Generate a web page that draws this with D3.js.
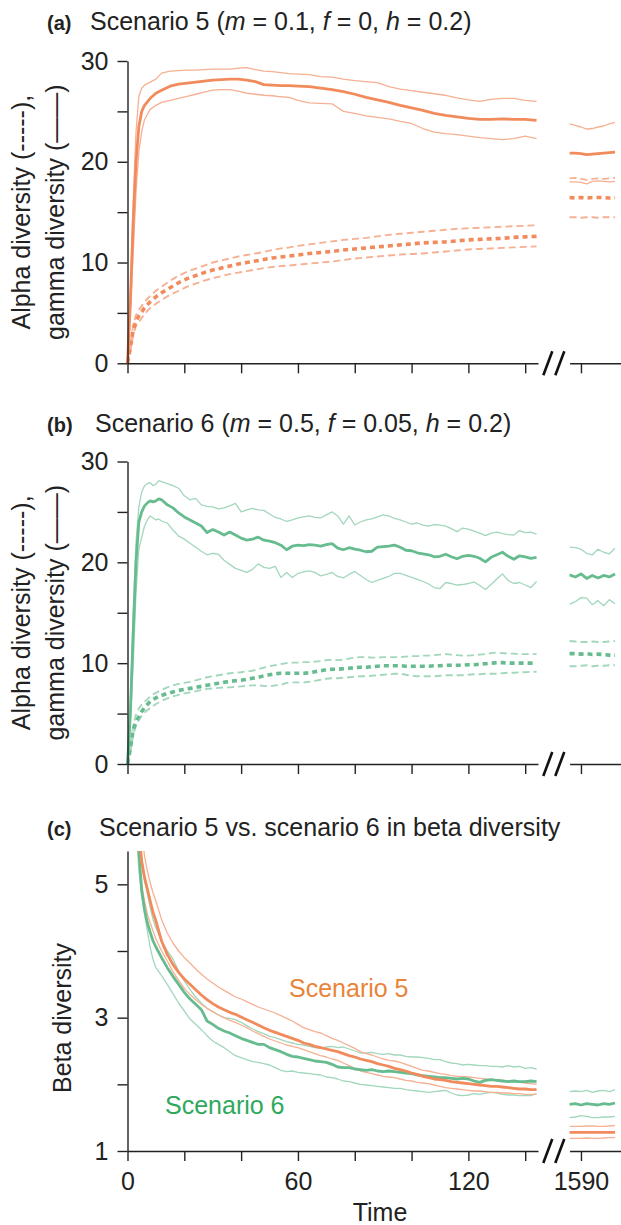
<!DOCTYPE html>
<html>
<head>
<meta charset="utf-8">
<script src="https://cdn.jsdelivr.net/npm/d3@7"></script>
<style>
  body { margin: 0; background: #fff; }
  svg { display: block; font-family: "Liberation Sans", Arial, sans-serif; }
</style>
</head>
<body>
<div id="chart"></div>
<script>
// ---- time axes ----
const tA = [0, 1, 2, 3, 4, 5, 6, 8, 10, 12,
  15, 18, 21, 24, 27, 30, 33, 36, 39, 42, 45, 48, 51, 54, 57, 60,
  64, 68, 72, 76, 80, 84, 88, 92, 96, 100, 104, 108, 112, 116, 120, 124, 128, 132, 136, 140, 144];
const tB = [0, 1, 2, 3, 4, 5, 6, 7, 8, 9, 10, 11, 12,
  14, 16, 18, 20, 22, 24, 26, 28, 30, 32,
  34, 36, 38, 40, 42, 44, 46, 48, 50, 52,
  54, 56, 58, 60, 62, 64, 66, 68, 70, 72,
  74, 76, 78, 80, 82, 84, 86, 88, 90, 92,
  94, 96, 98, 100, 102, 104, 106, 108, 110, 112,
  114, 116, 118, 120, 122, 124, 126, 128, 130, 132,
  134, 136, 138, 140, 142, 144];
const tC = [2, 3, 4, 5, 6, 7, 8, 9, 10,
  12, 14, 16, 18, 20, 22, 24, 26, 28, 30,
  32, 34, 36, 38, 40, 42, 44, 46, 48, 50,
  52, 54, 56, 58, 60, 62, 64, 66, 68, 70,
  72, 74, 76, 78, 80, 82, 84, 86, 88, 90,
  92, 94, 96, 98, 100, 102, 104, 106, 108, 110,
  112, 114, 116, 118, 120, 122, 124, 126, 128, 130,
  132, 134, 136, 138, 140, 142, 144];
const tLate = [1586, 1588, 1590, 1592, 1594, 1596, 1598, 1600, 1602];

const xTicksEarly = [0, 20, 40, 60, 80, 100, 120, 140];
const xLabelsEarly = [0, 60, 120];
const xTicksLate = [1590];

// ---- (a) scenario 5: gamma (solid) and alpha (dashed), mean and band ----
const s5GammaMean = [0, 6, 14, 20, 23.5, 25, 25.6, 26.3, 26.8, 27.1,
  27.5, 27.7, 27.8, 27.9, 28.0, 28.1, 28.15, 28.2, 28.2, 28.1, 27.95, 27.65, 27.6, 27.55, 27.55, 27.5,
  27.45, 27.3, 27.15, 26.95, 26.7, 26.4, 26.15, 25.9, 25.6, 25.35, 25.1, 24.8, 24.6, 24.45, 24.3, 24.2, 24.2, 24.25, 24.2, 24.2, 24.1];
const s5GammaHi = [0, 7, 16, 23, 26.5, 27.3, 27.6, 27.9, 28.2, 28.8,
  29.0, 29.05, 29.1, 29.1, 29.15, 29.2, 29.2, 29.2, 29.3, 29.35, 29.15, 29.0, 28.95, 28.85, 28.75, 28.7,
  28.65, 28.45, 28.4, 28.2, 28.05, 27.95, 27.85, 27.45, 27.2, 27.05, 26.9, 26.75, 26.6, 26.35, 26.15, 26.0, 26.2, 26.3, 26.3, 26.1, 26.0];
const s5GammaLo = [0, 5, 11, 17, 21, 23, 24.2, 25.2, 25.6, 25.9,
  26.1, 26.3, 26.5, 26.7, 26.9, 27.1, 27.15, 27.15, 27.0, 26.8, 26.7, 26.6, 26.55, 26.45, 26.4, 26.1,
  25.85, 25.8, 25.75, 25.0, 24.8, 24.55, 24.4, 24.25, 24.0, 23.8, 23.3, 22.95, 22.8, 22.7, 22.55, 22.4, 22.3, 22.2, 22.3, 22.55, 22.3];
const s5AlphaMean = [0, 1.5, 3.3, 4.2, 4.7, 5.1, 5.5, 6.1, 6.6, 7.0,
  7.5, 8.0, 8.4, 8.7, 9.0, 9.25, 9.45, 9.65, 9.85, 10.0, 10.15, 10.3, 10.45, 10.55, 10.65, 10.75,
  10.9, 11.0, 11.1, 11.25, 11.35, 11.45, 11.55, 11.65, 11.75, 11.85, 11.95, 12.0, 12.05, 12.15, 12.25, 12.3, 12.35, 12.4, 12.5, 12.55, 12.6];
const s5AlphaHi = [0, 1.8, 3.8, 4.8, 5.3, 5.7, 6.1, 6.7, 7.2, 7.6,
  8.2, 8.7, 9.1, 9.4, 9.7, 10.0, 10.2, 10.4, 10.6, 10.75, 10.9, 11.05, 11.25, 11.4, 11.5, 11.65,
  11.8, 11.95, 12.1, 12.25, 12.35, 12.45, 12.6, 12.75, 12.85, 12.95, 13.05, 13.15, 13.25, 13.35, 13.4, 13.45, 13.5, 13.55, 13.6, 13.65, 13.7];
const s5AlphaLo = [0, 1.2, 2.8, 3.7, 4.1, 4.5, 4.9, 5.5, 5.9, 6.3,
  6.8, 7.2, 7.6, 7.9, 8.2, 8.45, 8.65, 8.85, 9.0, 9.15, 9.3, 9.45, 9.55, 9.65, 9.7, 9.8,
  9.9, 10.0, 10.1, 10.25, 10.4, 10.5, 10.6, 10.7, 10.8, 10.85, 10.9, 11.0, 11.1, 11.2, 11.3, 11.35, 11.4, 11.45, 11.5, 11.55, 11.6];

const s5GammaMeanLate = [20.85, 20.85, 20.8, 20.7, 20.75, 20.8, 20.85, 20.9, 20.95];
const s5GammaHiLate = [23.75, 23.6, 23.45, 23.25, 23.3, 23.45, 23.55, 23.75, 23.9];
const s5GammaLoLate = [18.0, 18.0, 17.95, 17.8, 18.05, 18.1, 18.05, 18.0, 18.05];
const s5AlphaMeanLate = [16.45, 16.4, 16.45, 16.4, 16.45, 16.45, 16.45, 16.4, 16.45];
const s5AlphaHiLate = [18.35, 18.4, 18.3, 18.2, 18.3, 18.35, 18.3, 18.35, 18.4];
const s5AlphaLoLate = [14.5, 14.5, 14.45, 14.5, 14.5, 14.45, 14.5, 14.5, 14.5];

// ---- (b) scenario 6 ----
const s6GammaMean = [0, 5, 13, 20, 24.0, 25.0, 25.6, 25.9, 26.1, 26.0, 26.1, 26.3, 26.2,
  25.7, 25.4, 24.9, 24.5, 24.2, 23.9, 23.6, 22.95, 23.25, 23.0,
  22.7, 23.0, 22.7, 22.4, 22.2, 22.3, 22.5, 22.2, 22.1, 21.95,
  21.7, 21.25, 21.6, 21.7, 21.65, 21.75, 21.7, 21.6, 21.75, 21.85,
  21.4, 21.25, 21.45, 21.3, 21.2, 21.05, 21.1, 21.5, 21.55, 21.6,
  21.7, 21.5, 21.2, 21.15, 20.95, 20.85, 20.75, 20.55, 20.6, 20.8,
  20.55, 20.35, 20.6, 20.7, 20.6, 20.4, 20.05, 20.5, 20.75, 21.0,
  20.6, 20.3, 20.65, 20.55, 20.4, 20.5];
const s6GammaHi = [0, 6, 15, 22, 25.5, 27.0, 27.6, 27.8, 27.9, 27.6, 27.75, 28.1, 28.0,
  27.8, 27.6, 27.35, 26.6, 26.2, 26.35, 25.7, 25.55, 25.5, 25.3,
  25.4, 25.6, 25.85, 25.0, 25.2, 25.35, 25.2, 25.15, 24.8, 24.45,
  24.3, 24.05, 24.2, 24.4, 24.5, 24.6, 24.45, 24.4, 24.7, 25.0,
  24.6, 23.8, 24.6, 23.7, 24.0, 24.2, 24.3, 24.5, 24.7, 24.6,
  24.35, 24.2, 24.0, 23.8, 23.9, 23.7, 23.6, 23.75, 23.7, 23.6,
  23.35, 23.05, 23.4, 23.3, 23.1, 22.9, 22.65, 22.9, 23.0, 22.85,
  22.75, 22.7, 23.15, 22.95, 23.0, 22.8];
const s6GammaLo = [0, 4, 10, 17, 21.3, 22.5, 23.6, 24.2, 24.6, 24.4, 24.2, 24.3, 24.1,
  23.9, 23.2, 22.6, 22.3, 21.9, 21.5, 21.1, 20.75, 20.9, 20.8,
  20.2, 19.8, 19.4, 19.2, 19.0, 19.3, 19.85, 19.5, 19.4, 19.6,
  18.5, 19.0, 18.5, 18.9, 19.05, 19.15, 19.0, 18.65, 18.8, 19.0,
  18.6, 18.45, 18.8, 19.1, 18.7, 18.3, 18.0, 18.2, 18.4, 18.6,
  18.9, 18.9, 18.7, 18.5, 18.3, 18.1, 17.85, 17.5, 17.4, 18.0,
  17.9, 17.75, 17.8, 17.9, 18.05, 17.7, 17.3, 17.8, 18.35, 18.85,
  18.2, 17.9, 18.0, 17.75, 17.5, 18.1];
const s6AlphaMean = [0, 1.5, 3.4, 4.2, 4.7, 5.2, 5.6, 5.9, 6.2, 6.4, 6.55, 6.7, 6.8,
  7.0, 7.15, 7.3, 7.4, 7.5, 7.6, 7.7, 7.8, 7.9, 8.0,
  8.1, 8.2, 8.25, 8.3, 8.4, 8.5, 8.6, 8.75, 8.85, 8.95,
  9.0, 9.0, 9.0, 9.0, 9.0, 9.05, 9.15, 9.25, 9.35, 9.4,
  9.4, 9.45, 9.5, 9.55, 9.6, 9.6, 9.65, 9.7, 9.75, 9.75,
  9.75, 9.75, 9.7, 9.7, 9.7, 9.7, 9.7, 9.75, 9.75, 9.8,
  9.8, 9.8, 9.8, 9.85, 9.85, 9.9, 9.95, 10.0, 10.05, 10.05,
  10.0, 10.0, 10.0, 10.0, 10.0, 10.0];
const s6AlphaHi = [0, 1.8, 3.8, 4.9, 5.5, 5.9, 6.2, 6.4, 6.7, 6.9, 7.05, 7.2, 7.35,
  7.6, 7.8, 7.95, 8.05, 8.15, 8.3, 8.45, 8.6, 8.7, 8.8,
  8.9, 9.0, 9.05, 9.1, 9.2, 9.25, 9.4, 9.55, 9.7, 9.8,
  9.9, 10.0, 10.05, 10.05, 10.1, 10.1, 10.15, 10.2, 10.3, 10.35,
  10.3, 10.35, 10.45, 10.55, 10.6, 10.6, 10.55, 10.55, 10.6, 10.6,
  10.6, 10.6, 10.65, 10.7, 10.7, 10.75, 10.75, 10.8, 10.85, 10.9,
  10.85, 10.8, 10.75, 10.75, 10.8, 10.85, 10.9, 11.0, 11.05, 11.0,
  10.95, 10.95, 10.9, 10.9, 10.9, 10.9];
const s6AlphaLo = [0, 1.2, 2.9, 3.8, 4.35, 4.8, 5.1, 5.35, 5.55, 5.75, 5.95, 6.1, 6.25,
  6.5, 6.7, 6.85, 7.0, 7.1, 7.2, 7.35, 7.45, 7.5, 7.55,
  7.6, 7.6, 7.65, 7.7, 7.75, 7.8, 7.8, 7.75, 7.7, 7.8,
  7.85, 8.05, 8.1, 8.1, 8.1, 8.15, 8.25, 8.35, 8.45, 8.5,
  8.5, 8.55, 8.6, 8.65, 8.7, 8.7, 8.75, 8.8, 8.85, 8.9,
  8.95, 8.95, 8.85, 8.75, 8.7, 8.7, 8.7, 8.7, 8.75, 8.8,
  8.8, 8.8, 8.8, 8.85, 8.9, 8.9, 8.95, 8.95, 8.95, 9.0,
  9.05, 9.05, 9.1, 9.1, 9.15, 9.15];

const s6GammaMeanLate = [18.75, 18.55, 18.85, 18.4, 18.7, 18.45, 18.7, 18.55, 18.85];
const s6GammaHiLate = [21.5, 21.45, 21.3, 20.9, 20.75, 21.3, 21.0, 20.85, 21.4];
const s6GammaLoLate = [15.85, 16.1, 16.5, 16.45, 15.8, 16.2, 15.7, 16.3, 15.9];
const s6AlphaMeanLate = [10.95, 10.95, 10.9, 10.95, 10.85, 10.9, 10.85, 10.8, 10.8];
const s6AlphaHiLate = [12.2, 12.15, 12.1, 12.1, 12.15, 12.1, 12.1, 12.15, 12.2];
const s6AlphaLoLate = [9.7, 9.7, 9.75, 9.8, 9.7, 9.75, 9.75, 9.8, 9.8];

// ---- (c) beta diversity, both scenarios ----
const s5BetaMean = [8.0, 6.8, 5.8, 5.35, 5.1, 4.93, 4.75, 4.58, 4.45,
  4.15, 3.95, 3.8, 3.68, 3.58, 3.5, 3.42, 3.34, 3.27, 3.21,
  3.16, 3.12, 3.08, 3.05, 3.01, 2.97, 2.93, 2.89, 2.85, 2.81,
  2.78, 2.75, 2.72, 2.69, 2.66, 2.62, 2.6, 2.57, 2.55, 2.53,
  2.51, 2.49, 2.46, 2.43, 2.41, 2.38, 2.36, 2.34, 2.31, 2.29,
  2.27, 2.24, 2.22, 2.2, 2.17, 2.15, 2.12, 2.1, 2.08, 2.07,
  2.06, 2.04, 2.03, 2.02, 2.01, 2.0, 1.99, 1.98, 1.97, 1.97,
  1.96, 1.95, 1.94, 1.93, 1.93, 1.92, 1.92];
const s5BetaHi = [9.0, 7.8, 6.6, 5.8, 5.42, 5.2, 5.02, 4.87, 4.75,
  4.47, 4.27, 4.12, 4.0, 3.9, 3.82, 3.73, 3.65, 3.58, 3.52,
  3.46, 3.41, 3.36, 3.31, 3.28, 3.24, 3.2, 3.16, 3.13, 3.1,
  3.07, 3.03, 2.99, 2.95, 2.9, 2.85, 2.82, 2.79, 2.77, 2.73,
  2.69, 2.66, 2.62, 2.58, 2.54, 2.49, 2.46, 2.44, 2.41, 2.38,
  2.36, 2.35, 2.33, 2.3, 2.27, 2.24, 2.21, 2.2, 2.18, 2.16,
  2.15, 2.13, 2.12, 2.12, 2.11, 2.1, 2.09, 2.08, 2.07, 2.07,
  2.06, 2.05, 2.04, 2.03, 2.02, 2.01, 2.0];
const s5BetaLo = [7.5, 6.3, 5.45, 5.0, 4.75, 4.55, 4.42, 4.3, 4.18,
  4.0, 3.85, 3.69, 3.56, 3.44, 3.35, 3.27, 3.2, 3.14, 3.09,
  3.04, 3.0, 2.96, 2.93, 2.89, 2.85, 2.8, 2.76, 2.72, 2.68,
  2.65, 2.62, 2.59, 2.57, 2.55, 2.52, 2.49, 2.46, 2.43, 2.41,
  2.38, 2.36, 2.32, 2.28, 2.24, 2.2, 2.18, 2.16, 2.14, 2.12,
  2.11, 2.1, 2.08, 2.06, 2.05, 2.03, 2.02, 2.01, 1.99, 1.97,
  1.95, 1.94, 1.93, 1.92, 1.91, 1.9, 1.9, 1.89, 1.88, 1.88,
  1.87, 1.87, 1.86, 1.86, 1.85, 1.85, 1.85];
const s6BetaMean = [7.8, 6.5, 5.5, 4.9, 4.62, 4.42, 4.28, 4.15, 4.06,
  3.9, 3.75, 3.62, 3.5, 3.38, 3.28, 3.2, 3.12, 2.95, 2.9,
  2.84, 2.8, 2.77, 2.73, 2.69, 2.66, 2.63, 2.6, 2.6, 2.55,
  2.52, 2.49, 2.45, 2.42, 2.41, 2.39, 2.37, 2.35, 2.34, 2.33,
  2.3, 2.26, 2.25, 2.25, 2.23, 2.22, 2.21, 2.22, 2.2, 2.19,
  2.2, 2.19, 2.18, 2.17, 2.16, 2.14, 2.13, 2.12, 2.11, 2.1,
  2.1, 2.09, 2.08, 2.09, 2.08, 2.05, 2.03, 2.06, 2.07, 2.06,
  2.05, 2.04, 2.05, 2.04, 2.04, 2.05, 2.04];
const s6BetaHi = [8.5, 7.0, 5.9, 5.3, 5.05, 4.85, 4.65, 4.47, 4.35,
  4.15, 4.0, 3.88, 3.7, 3.55, 3.42, 3.31, 3.22, 3.14, 3.09,
  3.04, 3.0, 2.99, 2.97, 2.93, 2.88, 2.83, 2.79, 2.76, 2.72,
  2.7, 2.67, 2.64, 2.62, 2.6, 2.59, 2.57, 2.55, 2.54, 2.56,
  2.57, 2.55, 2.56, 2.53, 2.5, 2.47, 2.47, 2.48, 2.46, 2.45,
  2.46, 2.44, 2.44, 2.42, 2.41, 2.41, 2.4, 2.39, 2.37, 2.37,
  2.34, 2.32, 2.31, 2.29, 2.3, 2.29, 2.28, 2.28, 2.27, 2.27,
  2.26, 2.28, 2.26, 2.27, 2.24, 2.25, 2.23];
const s6BetaLo = [7.0, 5.9, 5.2, 4.85, 4.55, 4.3, 4.05, 3.87, 3.75,
  3.63, 3.5, 3.36, 3.22, 3.1, 2.98, 2.9, 2.82, 2.73, 2.65,
  2.6, 2.55, 2.49, 2.43, 2.4, 2.37, 2.34, 2.33, 2.31, 2.29,
  2.25, 2.21, 2.19, 2.2, 2.18, 2.17, 2.16, 2.15, 2.14, 2.11,
  2.1, 2.08, 2.05, 2.04, 2.02, 2.0, 1.99, 1.98, 1.97, 1.96,
  1.95, 1.94, 1.94, 1.92, 1.91, 1.9, 1.89, 1.88, 1.89, 1.9,
  1.91, 1.87, 1.84, 1.83, 1.84, 1.86, 1.85, 1.87, 1.88, 1.87,
  1.85, 1.84, 1.84, 1.83, 1.83, 1.83, 1.86];

const s5BetaMeanLate = [1.28, 1.28, 1.28, 1.28, 1.28, 1.28, 1.28, 1.28, 1.28];
const s5BetaHiLate = [1.37, 1.37, 1.37, 1.375, 1.375, 1.37, 1.37, 1.375, 1.38];
const s5BetaLoLate = [1.19, 1.19, 1.19, 1.195, 1.19, 1.19, 1.195, 1.2, 1.2];
const s6BetaMeanLate = [1.7, 1.71, 1.69, 1.71, 1.7, 1.69, 1.71, 1.7, 1.72];
const s6BetaHiLate = [1.89, 1.9, 1.89, 1.91, 1.88, 1.9, 1.91, 1.89, 1.92];
const s6BetaLoLate = [1.5, 1.51, 1.53, 1.52, 1.5, 1.5, 1.51, 1.51, 1.52];

// ---- layout ----
const width = 621;
const height = 1225;
const marginLeft = 127.5;
const pxPerUnit = 2.8407;     // same spacing on both sides of the break
const earlyEnd = 144.5;
const lateStart = 1586;
const lateLeft = 569.6;
const fontSize = 25;

const orange = "#f28b5c", orangeLight = "#f6b093";
const green = "#66bc8f", greenLight = "#a3d7bc";
const axisColor = "#222";

const x = d3.scaleLinear().domain([0, earlyEnd])
  .range([marginLeft, marginLeft + earlyEnd * pxPerUnit]);
const xLate = d3.scaleLinear().domain([lateStart, lateStart + (width - lateLeft) / pxPerUnit])
  .range([lateLeft, width]);

const svg = d3.select("#chart").append("svg")
  .attr("width", width)
  .attr("height", height);

// one line style per role
const styles = {
  mean: { w: 2.8, dash: null },
  band: { w: 1.3, dash: null },
  alphaMean: { w: 3.6, dash: "5,4" },
  alphaBand: { w: 1.9, dash: "7,4" }
};

function drawSeries(g, y, t, v, tl, vl, color, style) {
  const line = d3.line().x(d => d.x).y(d => y(d.v));
  const early = t.map((tt, i) => ({ x: x(tt), v: v[i] }));
  const late = tl.map((tt, i) => ({ x: xLate(tt), v: vl[i] }));
  [early, late].forEach(pts => {
    g.append("path")
      .datum(pts)
      .attr("fill", "none")
      .attr("stroke", color)
      .attr("stroke-width", style.w)
      .attr("stroke-dasharray", style.dash)
      .attr("stroke-linejoin", "round")
      .attr("d", line);
  });
}

function drawAxes(y, yTicks, yLabels, showXLabels) {
  const yBase = y.range()[0];
  const fmt = d => yLabels.includes(d) ? d : "";

  const gy = svg.append("g")
    .attr("transform", `translate(${marginLeft},0)`)
    .call(d3.axisLeft(y).tickValues(yTicks).tickFormat(fmt).tickSize(10).tickSizeOuter(0).tickPadding(9));

  const gx = svg.append("g")
    .attr("transform", `translate(0,${yBase})`)
    .call(d3.axisBottom(x).tickValues(xTicksEarly)
      .tickFormat(d => showXLabels && xLabelsEarly.includes(d) ? d : "")
      .tickSize(10).tickSizeOuter(0).tickPadding(11));

  const gx2 = svg.append("g")
    .attr("transform", `translate(0,${yBase})`)
    .call(d3.axisBottom(xLate).tickValues(xTicksLate)
      .tickFormat(d => showXLabels ? d : "")
      .tickSize(10).tickSizeOuter(0).tickPadding(11));

  [gy, gx, gx2].forEach(g => {
    g.attr("color", axisColor)
      .attr("font-size", fontSize)
      .attr("font-family", null);
    g.selectAll("path, line").attr("stroke-width", 1.4);
  });

  // axis break "//"
  const mid = (x.range()[1] + lateLeft) / 2;
  [-6, 6].forEach(off => {
    svg.append("line")
      .attr("x1", mid + off - 4.5).attr("y1", yBase + 12)
      .attr("x2", mid + off + 4.5).attr("y2", yBase - 12)
      .attr("stroke", "#111")
      .attr("stroke-width", 2.6);
  });
}

function panelTitle(letter, baseline, xStart, parts) {
  svg.append("text")
    .attr("x", 47).attr("y", baseline)
    .attr("font-size", 20).attr("font-weight", "bold")
    .attr("fill", "#222")
    .text(letter);
  const t = svg.append("text")
    .attr("x", xStart).attr("y", baseline)
    .attr("font-size", fontSize)
    .attr("fill", "#222");
  parts.forEach(p => {
    t.append("tspan")
      .attr("font-style", p[1] ? "italic" : null)
      .text(p[0]);
  });
}

function yLabel(lines, cy) {
  lines.forEach(([txt, bx]) => {
    svg.append("text")
      .attr("transform", `translate(${bx},${cy}) rotate(-90)`)
      .attr("text-anchor", "middle")
      .attr("font-size", fontSize)
      .attr("fill", "#222")
      .text(txt);
  });
}

// ---- panels (a) and (b) ----
function diversityPanel(top, bottom, series, colorDark, colorLight) {
  const y = d3.scaleLinear().domain([0, 30]).range([bottom, top]);
  const g = svg.append("g");
  const [t, gm, gh, gl, am, ah, al, gmL, ghL, glL, amL, ahL, alL] = series;
  drawSeries(g, y, t, gh, tLate, ghL, colorLight, styles.band);
  drawSeries(g, y, t, gl, tLate, glL, colorLight, styles.band);
  drawSeries(g, y, t, ah, tLate, ahL, colorLight, styles.alphaBand);
  drawSeries(g, y, t, al, tLate, alL, colorLight, styles.alphaBand);
  drawSeries(g, y, t, gm, tLate, gmL, colorDark, styles.mean);
  drawSeries(g, y, t, am, tLate, amL, colorDark, styles.alphaMean);
  drawAxes(y, [0, 5, 10, 15, 20, 25, 30], [0, 10, 20, 30], false);
  yLabel([["Alpha diversity (-----),", 30], ["gamma diversity (\u2014\u2014)", 64]], (top + bottom) / 2);
}

panelTitle("(a)", 30, 90, [["Scenario 5 ("], ["m", true], [" = 0.1, "], ["f", true], [" = 0, "], ["h", true], [" = 0.2)"]]);
diversityPanel(61, 363.3,
  [tA, s5GammaMean, s5GammaHi, s5GammaLo, s5AlphaMean, s5AlphaHi, s5AlphaLo,
   s5GammaMeanLate, s5GammaHiLate, s5GammaLoLate, s5AlphaMeanLate, s5AlphaHiLate, s5AlphaLoLate],
  orange, orangeLight);

panelTitle("(b)", 432, 95, [["Scenario 6 ("], ["m", true], [" = 0.5, "], ["f", true], [" = 0.05, "], ["h", true], [" = 0.2)"]]);
diversityPanel(461.5, 764,
  [tB, s6GammaMean, s6GammaHi, s6GammaLo, s6AlphaMean, s6AlphaHi, s6AlphaLo,
   s6GammaMeanLate, s6GammaHiLate, s6GammaLoLate, s6AlphaMeanLate, s6AlphaHiLate, s6AlphaLoLate],
  green, greenLight);

// ---- panel (c) ----
panelTitle("(c)", 836, 99, [["Scenario 5 vs. scenario 6 in beta diversity"]]);
const yC = d3.scaleLinear().domain([1, 5.5]).range([1151, 851]);

svg.append("clipPath").attr("id", "clipC")
  .append("rect")
  .attr("x", marginLeft).attr("y", yC.range()[1])
  .attr("width", width - marginLeft)
  .attr("height", yC.range()[0] - yC.range()[1]);

const gC = svg.append("g").attr("clip-path", "url(#clipC)");
drawSeries(gC, yC, tC, s6BetaHi, tLate, s6BetaHiLate, greenLight, styles.band);
drawSeries(gC, yC, tC, s6BetaLo, tLate, s6BetaLoLate, greenLight, styles.band);
drawSeries(gC, yC, tC, s5BetaHi, tLate, s5BetaHiLate, orangeLight, styles.band);
drawSeries(gC, yC, tC, s5BetaLo, tLate, s5BetaLoLate, orangeLight, styles.band);
drawSeries(gC, yC, tC, s6BetaMean, tLate, s6BetaMeanLate, green, styles.mean);
drawSeries(gC, yC, tC, s5BetaMean, tLate, s5BetaMeanLate, orange, styles.mean);

drawAxes(yC, [1, 2, 3, 4, 5], [1, 3, 5], true);
yLabel([["Beta diversity", 71]], 1018);

svg.append("text")
  .attr("x", 380).attr("y", 1221)
  .attr("text-anchor", "middle")
  .attr("font-size", fontSize)
  .attr("fill", "#222")
  .text("Time");

svg.append("text")
  .attr("x", 289).attr("y", 997)
  .attr("font-size", fontSize)
  .attr("fill", "#e8843a")
  .text("Scenario 5");

svg.append("text")
  .attr("x", 165).attr("y", 1114)
  .attr("font-size", fontSize)
  .attr("fill", "#2ea85c")
  .text("Scenario 6");
</script>
</body>
</html>
